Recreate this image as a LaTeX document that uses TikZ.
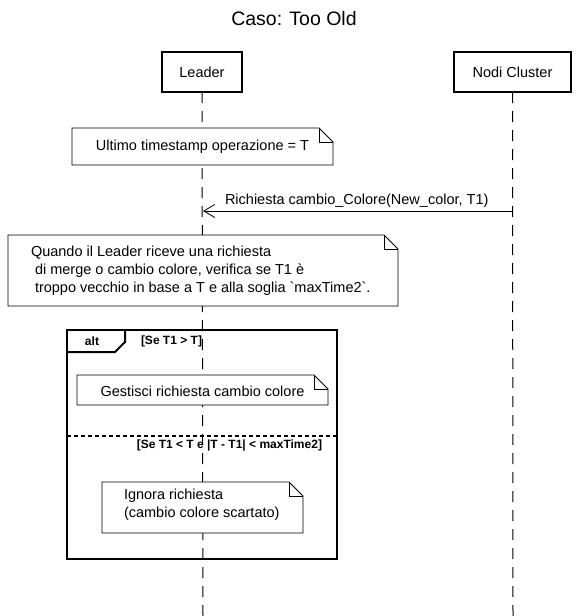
\documentclass[tikz,border=0pt]{standalone}
\usepackage{fontspec}
\setmainfont{Liberation Sans}
\newfontfamily\nomapfont{Liberation Sans}
\usetikzlibrary{arrows.meta,calc}
\begin{document}
\begin{tikzpicture}[x=1pt,y=-1pt,
  every node/.style={inner sep=0pt,outer sep=0pt},
  head/.style={draw,line width=2pt,fill=white,font=\fontsize{14.5}{17}\selectfont},
  lifeline/.style={line width=1pt,dash pattern=on 11pt off 8pt},
  notebox/.style={font=\fontsize{14.5}{18}\selectfont,align=left},
  noteline/.style={line width=0.8pt,fill=white},
  frameline/.style={line width=2pt},
  guard/.style={font=\bfseries\fontsize{12}{14}\selectfont},
  msg/.style={line width=0.8pt,-{Straight Barb[length=11pt,width=13pt,line width=0.8pt]}}
]
\useasboundingbox (0,0) rectangle (578,616);
\fill[white] (0,0) rectangle (578,616);

% title
\node[font=\fontsize{19.5}{23}\selectfont] (title) at (294,19) {Caso: Too Old};

% heads
\node[head,minimum width=80pt,minimum height=40pt] (leader) at (202,72) {Leader};
\node[head,minimum width=117pt,minimum height=40pt] (nodi) at (512.5,72) {Nodi Cluster};

\coordinate (lend) at (203,616);
\coordinate (nend) at (513,616);
\draw[lifeline] (leader.south) -- (lend);
\draw[lifeline] (nodi.south) -- (nend);

% note macro
\newcommand{\mynote}[5]{% name, x1,y1,x2,y2
  \draw[noteline] (#2,#3) -- (#4-14,#3) -- (#4,#3+14) -- (#4,#5) -- (#2,#5) -- cycle;
  \draw[line width=0.8pt] (#4-14,#3) -- (#4-14,#3+14) -- (#4,#3+14);
  \coordinate (#1) at ({(#2+#4)/2},{(#3+#5)/2});
}

% note 1
\mynote{n1c}{72}{128}{333}{165}
\node[notebox] (n1) at (202.5,146.5) {Ultimo timestamp operazione = T};

% message
\coordinate (nmsg) at (513,211);
\coordinate (lmsg) at (203,211);
\draw[msg] (nmsg) -- (lmsg);
\node[font=\fontsize{14.5}{17}\selectfont,anchor=base west] (mlabel) at (225,204) {Richiesta cambio\_Colore(New\_color, T1)};

% note 2
\mynote{n2c}{8}{235}{398}{306}
\node[notebox,anchor=north west] (n2) at (31,246) {Quando il Leader riceve una richiesta\\
\hspace*{4pt}di merge o cambio colore, verifica se T1 è\\
\hspace*{4pt}troppo vecchio in base a T e alla soglia {\nomapfont `}maxTime2{\nomapfont `}.};

% alt frame
\draw[frameline] (67,330) rectangle (337,559);
\draw[frameline] (67,352) -- (115,352) -- (125,342) -- (125,330);
\node[guard] (alt) at (92,341) {alt};
\node[guard,anchor=west] (g1) at (141,341) {[Se T1 > T]};
\draw[line width=1.5pt,dash pattern=on 4pt off 3pt] (67,436) -- (337,436);
\node[guard,anchor=east] (g2) at (322,445) {[Se T1 < T e |T - T1| < maxTime2]};

% note 3
\mynote{n3c}{77}{375}{328}{405}
\node[notebox] (n3) at (202.5,391) {Gestisci richiesta cambio colore};

% note 4
\mynote{n4c}{102}{482}{303}{533}
\node[notebox,anchor=north west] (n4) at (124,489) {Ignora richiesta\\(cambio colore scartato)};
\end{tikzpicture}
\end{document}
